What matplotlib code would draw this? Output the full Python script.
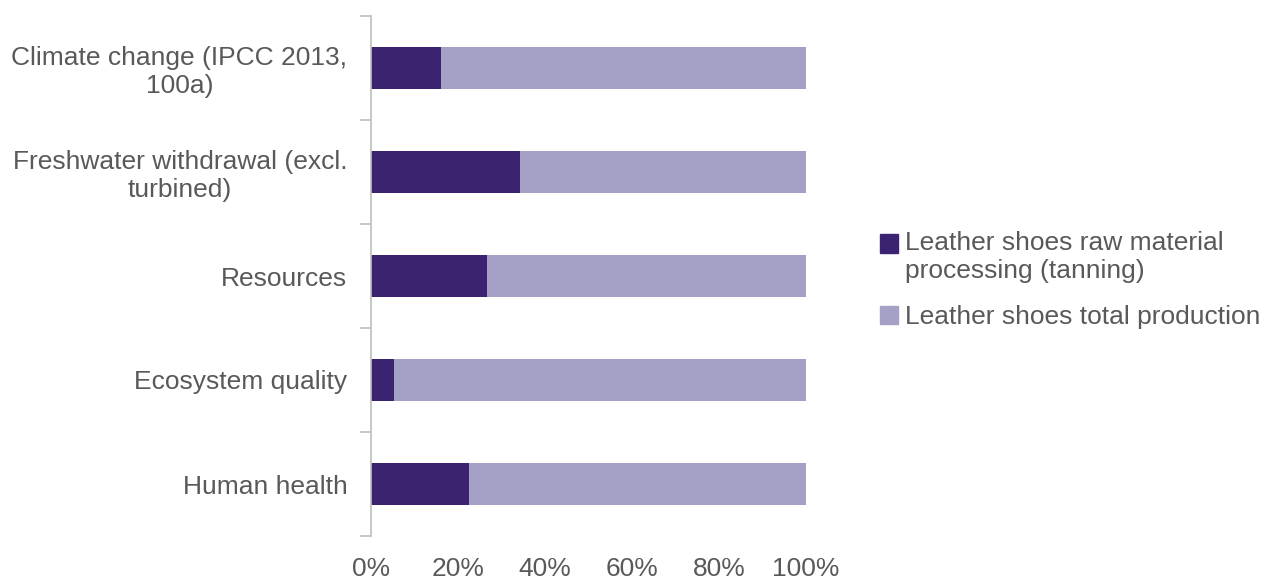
import matplotlib.pyplot as plt
import numpy as np
from matplotlib.patches import Patch, Rectangle
from matplotlib.legend_handler import HandlerPatch

plt.rcParams['font.family'] = ['Liberation Sans', 'DejaVu Sans']

categories = ['Climate change (IPCC 2013,\n100a)',
              'Freshwater withdrawal (excl.\nturbined)',
              'Resources',
              'Ecosystem quality',
              'Human health']
tanning = [0.162, 0.343, 0.267, 0.053, 0.226]
total = [1 - v for v in tanning]
series_names = ['Leather shoes raw material\nprocessing (tanning)',
                'Leather shoes total production']
xticks = [0, 0.2, 0.4, 0.6, 0.8, 1.0]
xlabels = ['0%', '20%', '40%', '60%', '80%', '100%']

dark = '#3b2372'
light = '#a5a0c5'
txt = '#595959'

fig = plt.figure(figsize=(12.73, 5.81), dpi=100)
ax = fig.add_axes([371 / 1273, 1 - 536 / 581, 435 / 1273, 520 / 581])

y = np.arange(len(categories))
ax.barh(y, tanning, height=0.4, color=dark)
ax.barh(y, total, left=tanning, height=0.4, color=light)

ax.set_xlim(0, 1)
ax.set_ylim(len(categories) - 0.5, -0.5)
ax.set_xticks(xticks)
ax.set_xticklabels(xlabels, fontsize=19, color=txt)
ax.tick_params(axis='x', length=0, pad=15)

# category labels sit between the boundary ticks
ax.set_yticks(y)
ax.set_yticklabels(categories, fontsize=19, color=txt, multialignment='center')
ax.tick_params(axis='y', which='major', length=0, pad=17)
ax.set_yticks(np.arange(len(categories) + 1) - 0.5, minor=True)
ax.tick_params(axis='y', which='minor', length=8, width=1.2, color='#bfbfbf')

for s in ['top', 'right', 'bottom']:
    ax.spines[s].set_visible(False)
ax.spines['left'].set_color('#bfbfbf')
ax.spines['left'].set_linewidth(1.2)


# legend square lines up with the first line of a two-line label
def top_square(legend, orig_handle, xdescent, ydescent, width, height, fontsize):
    return Rectangle((-xdescent, -ydescent + 10), width, height)


handles = [Patch(color=dark), Patch(color=light)]
fig.legend(handles, series_names, loc='upper left',
           bbox_to_anchor=(880 / 1273, 1 - 231 / 581), frameon=False,
           fontsize=19, labelcolor=txt, handlelength=0.7, handleheight=0.7,
           handletextpad=0.25, labelspacing=0.85, borderaxespad=0, borderpad=0,
           handler_map={handles[0]: HandlerPatch(patch_func=top_square)})

fig.savefig('out.png', dpi=100)
